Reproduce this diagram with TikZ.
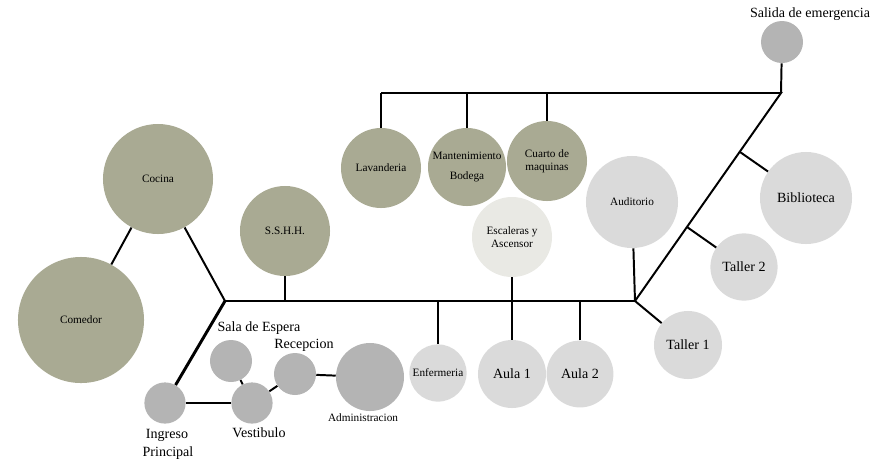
\documentclass[tikz,border=0pt]{standalone}
\usepackage{fontspec}
\setmainfont{Liberation Serif}
\definecolor{olivo}{RGB}{169,170,147}
\definecolor{gclaro}{RGB}{218,218,218}
\definecolor{goscuro}{RGB}{180,180,180}
\definecolor{palido}{RGB}{233,233,228}
\begin{document}
\begin{tikzpicture}[x=0.025cm,y=-0.025cm,
  room/.style={circle,inner sep=0pt,align=center,font=\fontsize{8}{9}\selectfont},
  big/.style={font=\fontsize{10}{12}\selectfont},
  one/.style={line width=1.4pt},
  two/.style={line width=2.1pt}]
  \useasboundingbox (0,0) rectangle (884,463);
  % servicios
  \node[room,fill=olivo,minimum size=2.75cm] (coc) at (158,179) {Cocina};
  \node[room,fill=olivo,minimum size=3.15cm] (com) at (81,320) {Comedor};
  \node[room,fill=olivo,minimum size=2.25cm] (ssh) at (285,231) {S.S.H.H.};
  \node[room,fill=olivo,minimum size=2cm] (lav) at (381,168) {Lavanderia};
  \node[room,fill=olivo,minimum size=1.95cm] (man) at (467,167) {Mantenimiento\\[5pt]Bodega};
  \node[room,fill=olivo,minimum size=2cm] (cua) at (547,161) {Cuarto de\\maquinas};
  % aulas
  \node[room,fill=palido,minimum size=2cm] (esc) at (512,237) {Escaleras y\\Ascensor};
  \node[room,fill=gclaro,minimum size=1.43cm] (enf) at (438,373) {Enfermeria};
  \node[room,fill=gclaro,minimum size=1.7cm,big] (au1) at (512,374) {Aula 1};
  \node[room,fill=gclaro,minimum size=1.67cm,big] (au2) at (580,374) {Aula 2};
  \node[room,fill=gclaro,minimum size=2.3cm] (aud) at (632,202) {Auditorio};
  \node[room,fill=gclaro,minimum size=1.7cm,big] (ta1) at (688,345) {Taller 1};
  \node[room,fill=gclaro,minimum size=1.68cm,big] (ta2) at (744,267) {Taller 2};
  \node[room,fill=gclaro,minimum size=2.3cm,big] (bib) at (806,198) {Biblioteca};
  \node[room,fill=goscuro,minimum size=1.05cm] (sal) at (782,42) {};
  \node[big] (lsal) at (810,14) {Salida de emergencia};
  % acceso
  \node[room,fill=goscuro,minimum size=1.03cm] (ing) at (165,403) {};
  \node[room,fill=goscuro,minimum size=1.03cm] (ves) at (252,403) {};
  \node[room,fill=goscuro,minimum size=1.05cm] (sep) at (231,361) {};
  \node[room,fill=goscuro,minimum size=1.05cm] (rec) at (295,374) {};
  \node[room,fill=goscuro,minimum size=1.7cm] (adm) at (370,377) {};
  \node[big] (ling) at (167,435) {Ingreso};
  \node[big] (lpri) at (168,453) {Principal};
  \node[big] (lves) at (259,433) {Vestibulo};
  \node[big] (lsep) at (259,328) {Sala de Espera};
  \node[big] (lrec) at (304,345) {Recepcion};
  \node[font=\fontsize{8}{9}\selectfont] (ladm) at (363,418) {Administracion};
  % ejes
  \coordinate (jl) at (225,301);
  \coordinate (jr) at (635,301);
  \coordinate (tl) at (381,93);
  \coordinate (tr) at (781,93);
  \coordinate (tm) at (467,93);
  \coordinate (tc) at (547,93);
  \coordinate (ps) at (285,301);
  \coordinate (pe) at (438,301);
  \coordinate (p1) at (512,301);
  \coordinate (p2) at (580,301);
  \coordinate (db) at (740,152);
  \coordinate (dt) at (687,227);
  \draw[two] (jl)--(jr);
  \draw[two] (jl)--(ing);
  \draw[one] (tl)--(tr)--(jr);
  \draw[one] (coc)--(jl);
  \draw[one] (coc)--(com);
  \draw[one] (ssh)--(ps);
  \draw[one] (lav)--(tl);
  \draw[one] (man)--(tm);
  \draw[one] (cua)--(tc);
  \draw[one] (sal)--(tr);
  \draw[one] (esc)--(p1);
  \draw[one] (au1)--(p1);
  \draw[one] (au2)--(p2);
  \draw[one] (enf)--(pe);
  \draw[one] (aud)--(jr);
  \draw[one] (ta1)--(jr);
  \draw[one] (ta2)--(dt);
  \draw[one] (bib)--(db);
  \draw[one] (ing)--(ves);
  \draw[one] (sep)--(ves);
  \draw[one] (ves)--(rec);
  \draw[one] (rec)--(adm);
\end{tikzpicture}
\end{document}
